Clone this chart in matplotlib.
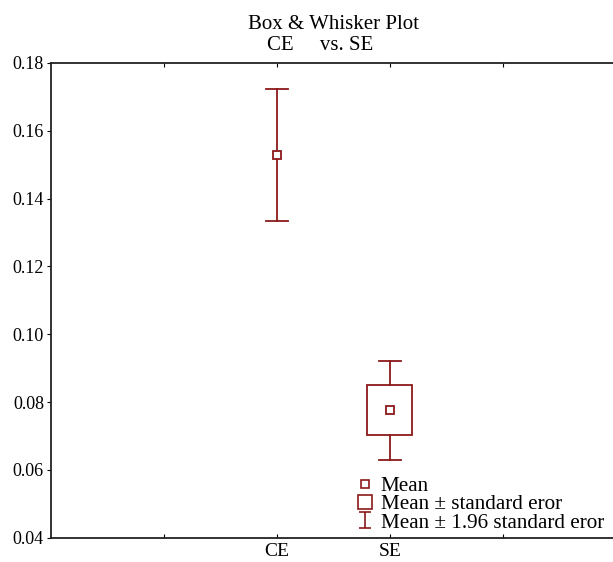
import numpy as np
import matplotlib
matplotlib.use("Agg")
import matplotlib.pyplot as plt
from matplotlib.path import Path
from matplotlib.lines import Line2D

# ---------------------------
# Data (mean, +/- SE box, +/- 1.96 SE whiskers)
# ---------------------------
groups = ["CE", "SE"]
positions = [2, 3]
means = [0.1529, 0.0776]
se_low = [np.nan, 0.0703]     # CE shows no box in the original
se_high = [np.nan, 0.0850]
ci_low = [0.1333, 0.0629]
ci_high = [0.1723, 0.0921]

color = "#8b1a1a"
plt.rcParams["font.family"] = ["Liberation Serif", "DejaVu Serif"]
plt.rcParams["font.size"] = 13

fig = plt.figure(figsize=(6.13, 5.62), dpi=100)
ax = fig.add_axes([0.083, 0.043, 0.9217, 0.845])

cap = 0.1
half_box = 0.2
for x, m, bl, bh, lo, hi in zip(positions, means, se_low, se_high, ci_low, ci_high):
    if np.isnan(bl):
        ax.plot([x, x], [lo, hi], color=color, lw=1.3, zorder=2)
    else:
        ax.plot([x, x], [lo, bl], color=color, lw=1.3, zorder=2)
        ax.plot([x, x], [bh, hi], color=color, lw=1.3, zorder=2)
        ax.add_patch(plt.Rectangle((x - half_box, bl), 2 * half_box, bh - bl,
                                   fill=False, edgecolor=color, lw=1.3, zorder=2))
    ax.plot([x - cap, x + cap], [hi, hi], color=color, lw=1.3)
    ax.plot([x - cap, x + cap], [lo, lo], color=color, lw=1.3)
    ax.plot([x], [m], marker="s", ms=6, mfc="white", mec=color, mew=1.3, zorder=3)

ax.set_xlim(0, 5)
ax.set_ylim(0.04, 0.18)
ax.set_xticks([1, 2, 3, 4])
ax.set_xticklabels(["", groups[0], groups[1], ""], fontsize=14)
ax.set_yticks(np.arange(0.04, 0.181, 0.02))
ax.set_yticklabels([f"{v:.2f}" for v in np.arange(0.04, 0.181, 0.02)], fontsize=13)
ax.tick_params(axis="x", direction="in", length=3, top=True, pad=4)
ax.tick_params(axis="y", direction="out", length=3, right=False, pad=2)
for s in ax.spines.values():
    s.set_color("#222222")
    s.set_linewidth(1.3)

ax.set_title("Box & Whisker Plot\nCE     vs. SE     ", fontsize=15, linespacing=1.2, pad=9)

# legend with custom glyphs
ibar = Path([(-1, 1.3), (1, 1.3), (0, 1.3), (0, -1.3), (-1, -1.3), (1, -1.3)],
            [Path.MOVETO, Path.LINETO, Path.MOVETO, Path.LINETO, Path.MOVETO, Path.LINETO])
handles = [
    Line2D([], [], ls="none", marker="s", ms=5.5, mfc="white", mec=color, mew=1.2),
    Line2D([], [], ls="none", marker="s", ms=9.5, mfc="white", mec=color, mew=1.2),
    Line2D([], [], ls="none", marker=ibar, ms=11, mec=color, mew=1.2),
]
labels = ["Mean", "Mean \u00b1 standard eror", "Mean \u00b1 1.96 standard eror"]
ax.legend(handles, labels, loc="lower right", bbox_to_anchor=(1.005, -0.02),
          frameon=False, handlelength=0.8, handletextpad=0.35, labelspacing=-0.07,
          borderpad=0.2, fontsize=15.2)

fig.savefig("out.png", dpi=100)
